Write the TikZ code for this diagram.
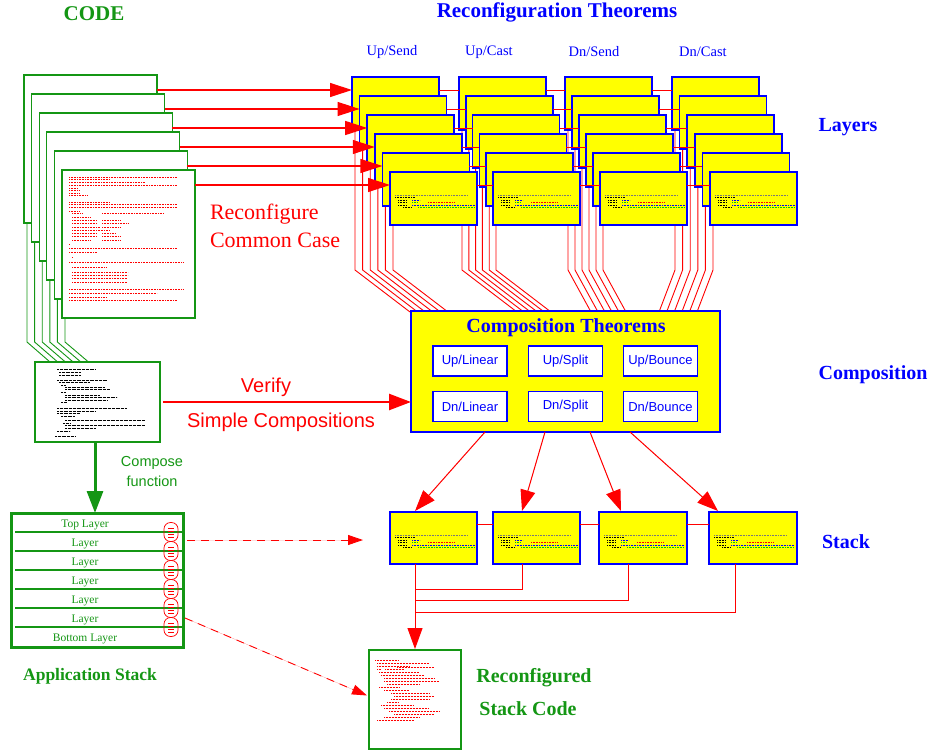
\documentclass[tikz,border=0pt]{standalone}
\usepackage{fontspec}
\setmainfont{Liberation Serif}
\setsansfont{Liberation Sans}
\usetikzlibrary{arrows.meta,calc}
\pgfdeclarelayer{bg}
\pgfsetlayers{bg,main}
\definecolor{cgreen}{RGB}{20,150,20}
\definecolor{cblue}{RGB}{0,0,255}
\definecolor{cred}{RGB}{255,0,0}
\definecolor{cyel}{RGB}{255,255,0}
\definecolor{cgrey}{RGB}{120,120,120}
\tikzset{
  layerbox/.style={draw=cblue, fill=cyel, line width=1.6pt, minimum width=87pt, minimum height=53pt, inner sep=0pt, outer sep=0pt, anchor=north west},
  stackbox/.style={draw=cblue, fill=cyel, line width=1.6pt, minimum width=87pt, minimum height=52pt, inner sep=0pt, outer sep=0pt, anchor=north west},
  pagebox/.style={draw=cgreen, fill=white, line width=1.2pt, minimum width=133pt, minimum height=148pt, inner sep=0pt, outer sep=0pt, anchor=north west},
  thmbox/.style={draw=cblue, fill=white, line width=1.1pt, minimum width=74pt, minimum height=30pt, inner sep=0pt, outer sep=0pt, text=cblue, font=\sffamily\fontsize{13}{15}\selectfont},
  pill/.style={draw=cred, line width=0.7pt, rounded corners=6.5pt, minimum width=14pt, minimum height=19pt, inner sep=0pt, outer sep=0pt},
  redln/.style={draw=cred, line width=0.9pt},
  greenln/.style={draw=cgreen, line width=0.9pt},
  redarrow/.style={draw=cred, fill=cred, line width=1.2pt, -{Triangle[length=22pt,width=14pt]}},
  stackarrow/.style={draw=cred, fill=cred, line width=1pt, -{Triangle[length=21pt,width=15pt]}},
  dasharrow/.style={draw=cred, fill=cred, line width=0.9pt, dash pattern=on 8pt off 6pt, -{Triangle[length=15pt,width=10pt]}},
  txt/.style={inner sep=0pt, outer sep=0pt},
  scrib/.style={line width=0.5pt, dash pattern=on 1pt off 0.6pt},
  lcode/.pic={
    \draw[scrib, cgrey] (5,23)--(78,23);
    \draw[scrib, black] (5,25.5)--(25,25.5) (8,28)--(17,28) (8,30.5)--(17,30.5) (8,33)--(17,33) (13,35.5)--(22,35.5);
    \draw[scrib, cblue] (22,28)--(30,28) (22,33)--(85,33);
    \draw[scrib, green!80!black] (22,30.5)--(28,30.5) (28,35.5)--(85,35.5);
    \draw[scrib, cred] (38,30.5)--(65,30.5);
  }
}
\begin{document}
\begin{tikzpicture}[x=1pt,y=-1pt]
\useasboundingbox (0,0) rectangle (933,751);

% ---------- titles ----------
\node[txt, text=cgreen, font=\bfseries\fontsize{21}{24}\selectfont] (tcode) at (94,14) {CODE};
\node[txt, text=cblue, font=\bfseries\fontsize{21}{24}\selectfont] (trec) at (557,12) {Reconfiguration Theorems};
\foreach \x/\t [count=\i] in {392/Up\slash Send,489/Up\slash Cast,594/Dn\slash Send,703/Dn\slash Cast}{
  \node[txt, text=cblue, font=\fontsize{14.5}{17}\selectfont] (col\i) at (\x,52) {\t};
}
\node[txt, text=cblue, font=\bfseries\fontsize{20}{23}\selectfont] (tlay) at (848,127) {Layers};
\node[txt, text=cblue, font=\bfseries\fontsize{20}{23}\selectfont] (tcomp) at (873,375) {Composition};
\node[txt, text=cblue, font=\bfseries\fontsize{20}{23}\selectfont] (tstack) at (846,542) {Stack};

% ---------- code pages ----------
\foreach \k in {0,...,5}{
  \node[pagebox] (P\k) at ({24+7.6*\k},{75+19*\k}) {};
}
\foreach \a/\b/\y in {7/115/7,7/48/9.5,7/83/12.5,7/115/15,7/16/18,7/18/20.5,7/18/23,7/25/25.5,7/48/32,7/115/34.5,7/115/37,7/18/41,10/21/43.5,40/101/43.5,10/28/47,10/35/50,40/58/50,10/35/53,40/66/53,10/38/57,40/58/57,10/48/60,10/35/63,40/53/63,10/35/66.5,40/58/66.5,10/28/70,40/58/70,7/8/74,7/115/78,7/35/82,10/11/87,7/121/92,10/45/97,10/66/102,10/66/105,10/65/108,10/65/112,7/121/119,7/95/123,7/45/127,7/115/130}{
  \draw[scrib, cred] ($(P5.north west)+(\a,\y)$) -- ($(P5.north west)+(\b,\y)$);
}

% ---------- middle code box ----------
\node[draw=cgreen, fill=white, line width=1.2pt, minimum width=125pt, minimum height=80pt, inner sep=0pt, outer sep=0pt, anchor=north west] (MC) at (35,362) {};
\foreach \a/\b/\y in {22/60/7,24/45/10,24/45/13,22/72/18,24/55/20,26/30/23,30/70/25,30/75/27,26/30/30,30/65/33,30/82/35,30/72/38,26/32/40,22/92/46,22/60/49,22/45/51,26/40/54,30/110/58,28/35/61,30/110/63,30/60/66,22/35/69,20/40/74}{
  \draw[line width=0.45pt, dash pattern=on 0.8pt off 0.5pt, black] ($(MC.north west)+(\a,\y)$) -- ($(MC.north west)+(\b,\y)$);
}

\begin{pgfonlayer}{bg}
\foreach \k in {0,...,5}{
  \draw[greenln] ($(P\k.south west)+(3,0)$) -- ($(P\k.south west)+(3,{119-19*\k})$) -- ($(MC.north west)+({15+7.7*\k},0)$);
}
\end{pgfonlayer}

% ---------- layer boxes ----------
\foreach \k in {0,...,5}{
  \foreach \g/\bx/\st in {0/352/7.6,1/459/6.8,2/565/7.0,3/672/7.6}{
    \node[layerbox] (L\g\k) at ({\bx+\st*\k},{77+19*\k}) {};
  }
  \foreach \g/\h in {0/1,1/2,2/3}{
    \draw[redln] ($(L\g\k.north east)+(0,13)$) -- ($(L\h\k.north west)+(0,13)$);
  }
}
\foreach \g in {0,...,3}{ \pic at (L\g5.north west) {lcode}; }

% arrows from code pages to layers
\foreach \k in {0,...,5}{
  \draw[redarrow] ($(P\k.north east)+(0,15)$) -- ($(L0\k.north west)+(0,13)$);
}

% ---------- composition ----------
\node[draw=cblue, fill=cyel, line width=1.4pt, minimum width=309pt, minimum height=121pt, inner sep=0pt, outer sep=0pt, anchor=north west] (comp) at (411,311) {};
\node[txt, text=cblue, font=\bfseries\fontsize{20}{23}\selectfont] (comptitle) at (566,328) {Composition Theorems};
\node[thmbox] (uplin) at (470,361) {Up/Linear};
\node[thmbox] (upspl) at (565.5,361) {Up/Split};
\node[thmbox] (upbou) at (660.5,361) {Up/Bounce};
\node[thmbox] (dnlin) at (470,406.5) {Dn/Linear};
\node[thmbox] (dnspl) at (565.5,406.5) {Dn/Split};
\node[thmbox] (dnbou) at (660.5,406.5) {Dn/Bounce};

\begin{pgfonlayer}{bg}
\foreach \g/\dx in {0/55,1/55,2/23,3/-16}{
  \foreach \k in {0,...,5}{
    \draw[redln] ($(L\g\k.south west)+(3,0)$) -- ($(L\g\k.south west)+(3,{140-19*\k})$) -- ($(L\g\k.south west)+({3+\dx},{182-19*\k})$);
  }
}
\end{pgfonlayer}

% ---------- stack ----------
\node[stackbox] (S1) at (390,512) {};
\node[stackbox] (S2) at (493,512) {};
\node[stackbox, minimum width=88pt] (S3) at (599,512) {};
\node[stackbox, minimum width=88pt] (S4) at (709,512) {};
\foreach \s in {1,...,4}{ \pic at (S\s.north west) {lcode}; }
\draw[redln] ($(S1.north east)+(0,12)$) -- ($(S2.north west)+(0,12)$);
\draw[redln] ($(S2.north east)+(0,12)$) -- ($(S3.north west)+(0,12)$);
\draw[redln] ($(S3.north east)+(0,12)$) -- ($(S4.north west)+(0,12)$);

\draw[stackarrow] ($(comp.south west)+(74,0)$) -- ($(S1.north west)+(25,-1)$);
\draw[stackarrow] ($(comp.south west)+(134,0)$) -- ($(S2.north west)+(29,-1)$);
\draw[stackarrow] ($(comp.south west)+(179,0)$) -- ($(S3.north west)+(22,-1)$);
\draw[stackarrow] ($(comp.south west)+(219,0)$) -- ($(S4.north west)+(9,-1)$);

% reconfigured stack code box
\node[draw=cgreen, fill=white, line width=1.2pt, minimum width=92pt, minimum height=99pt, inner sep=0pt, outer sep=0pt, anchor=north west] (RC) at (369,650) {};
\foreach \a/\b/\y in {6/30/10,8/60/13,8/40/16,28/65/17,8/12/19,16/35/19,10/50/22,12/55/25,15/65/28,15/70/31,18/50/34,10/30/37,15/40/40,22/60/43,25/65/46,22/60/49,18/30/52,12/45/55,15/60/58,20/70/61,25/65/64,15/50/67,8/45/70}{
  \draw[line width=0.5pt, dash pattern=on 1pt off 0.5pt, cred] ($(RC.north west)+(\a,\y)$) -- ($(RC.north west)+(\b,\y)$);
}
\coordinate (jA) at (415,589);
\coordinate (jB) at (415,600);
\coordinate (jC) at (415,612);
\draw[redln] ($(S2.south west)+(29,0)$) |- (jA);
\draw[redln] ($(S3.south west)+(29,0)$) |- (jB);
\draw[redln] ($(S4.south west)+(26,0)$) |- (jC);
\draw[stackarrow] ($(S1.south west)+(25,0)$) -- ($(RC.north west)+(46,-1)$);

\node[txt, text=cgreen, font=\bfseries\fontsize{20}{23}\selectfont] (trc1) at (534,678) {Reconfigured};
\node[txt, text=cgreen, font=\bfseries\fontsize{20}{23}\selectfont] (trc2) at (528,709) {Stack Code};

% ---------- labels on the left ----------
\node[txt, anchor=west, text=cred, font=\fontsize{22}{25}\selectfont] (rc1) at (210,214) {Reconfigure};
\node[txt, anchor=west, text=cred, font=\fontsize{22}{25}\selectfont] (rc2) at (210,240) {Common Case};
\node[txt, text=cred, font=\sffamily\fontsize{20}{23}\selectfont] (ver1) at (266,387) {Verify};
\node[txt, text=cred, font=\sffamily\fontsize{20}{23}\selectfont] (ver2) at (281,422) {Simple Compositions};
\draw[draw=cred, fill=cred, line width=2.5pt, -{Triangle[length=22pt,width=16pt]}] ($(MC.east)+(3,0)$) -- ($(comp.south west)+(0,-30)$);

\node[txt, text=cgreen, font=\sffamily\fontsize{14.5}{17}\selectfont] (cf1) at (152,463) {Compose};
\node[txt, text=cgreen, font=\sffamily\fontsize{14.5}{17}\selectfont] (cf2) at (152,481) {function};

% ---------- application stack ----------
\node[draw=cgreen, fill=white, line width=3pt, minimum width=172pt, minimum height=134pt, inner sep=0pt, outer sep=0pt, anchor=north west] (AS) at (11,513) {};
\draw[draw=cgreen, fill=cgreen, line width=3pt, -{Triangle[length=22pt,width=16pt]}] ($(MC.south west)+(60,0)$) -- ($(AS.north west)+(84,0)$);
\foreach \i in {1,...,6}{
  \draw[draw=cgreen, line width=1.1pt] ($(AS.north west)+(4,{19*\i})$) -- ($(AS.north east)+(0,{19*\i})$);
}
\foreach \t [count=\i from 0] in {Top Layer,Layer,Layer,Layer,Layer,Layer,Bottom Layer}{
  \node[txt, text=cgreen, font=\fontsize{11.5}{13}\selectfont] (al\i) at (85,{525+19*\i}) {\t};
}
\foreach \i in {1,...,6}{
  \node[pill] (pl\i) at (171,{513+19*\i}) {};
  \draw[cred, line width=0.6pt] ($(pl\i.center)+(-3,-4)$) -- ($(pl\i.center)+(3,-4)$)
    ($(pl\i.center)+(-3,-1)$) -- ($(pl\i.center)+(3,-1)$)
    ($(pl\i.center)+(-3,2)$) -- ($(pl\i.center)+(3,2)$)
    ($(pl\i.center)+(-3,5)$) -- ($(pl\i.center)+(3,5)$);
}
\node[txt, text=cgreen, font=\bfseries\fontsize{17.5}{20}\selectfont] (tapp) at (90,676) {Application Stack};

\draw[dasharrow] ($(AS.north east)+(4,27)$) -- ($(S1.west)+(-27,2)$);
\draw[dasharrow] ($(AS.north east)+(2,105)$) -- ($(RC.west)+(-2,-4)$);
\end{tikzpicture}
\end{document}
